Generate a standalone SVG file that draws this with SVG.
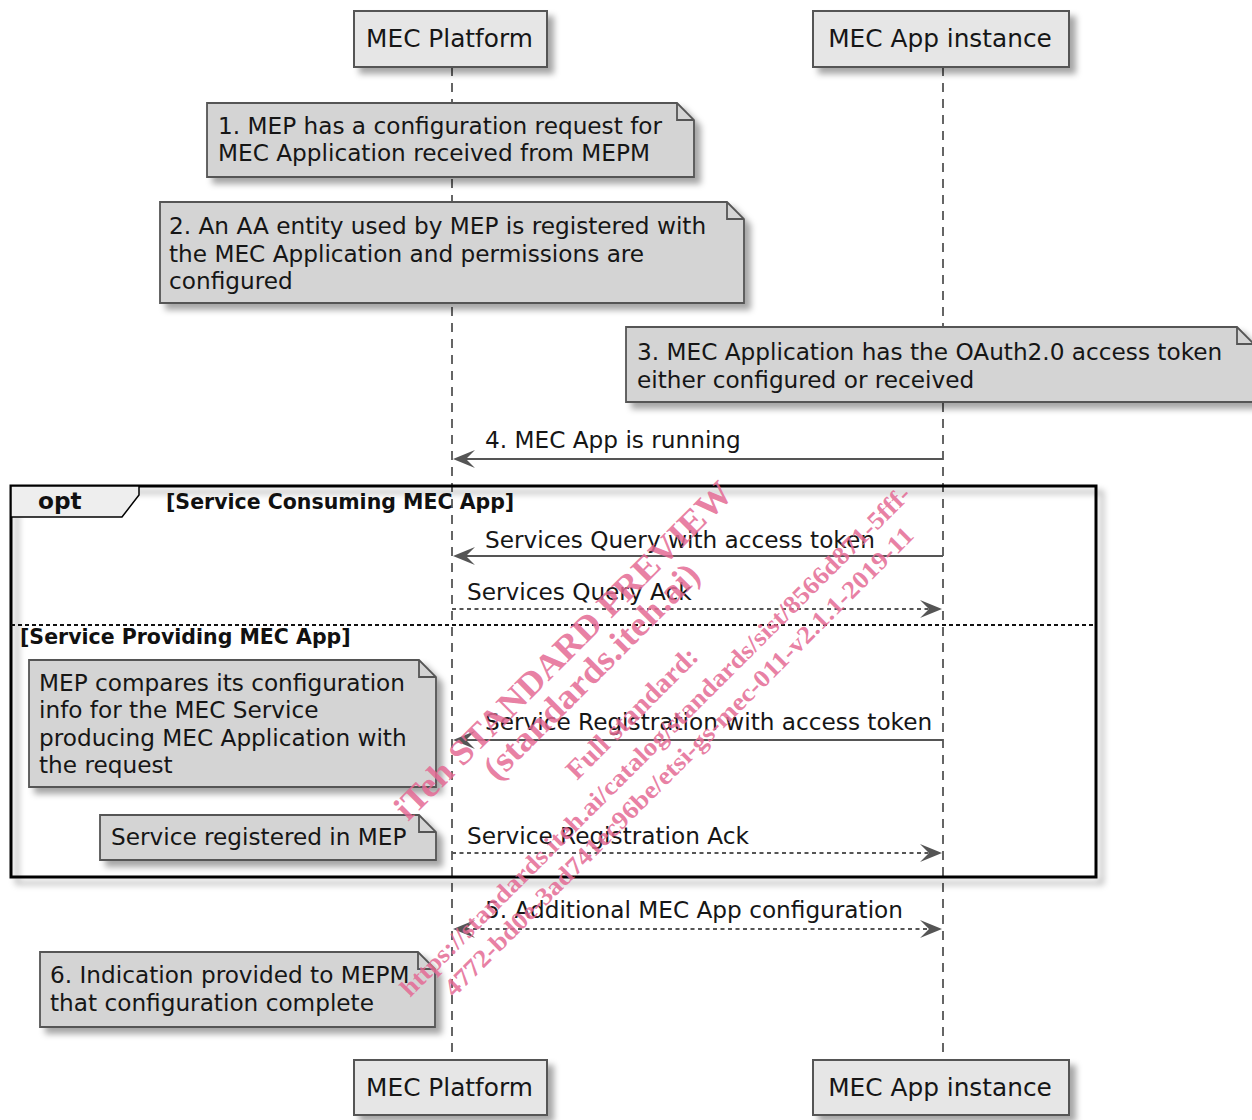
<svg xmlns="http://www.w3.org/2000/svg" width="1252" height="1120" viewBox="0 0 1252 1120">
<defs>
<filter id="sh" x="-10%" y="-10%" width="130%" height="140%">
<feDropShadow dx="6" dy="6" stdDeviation="3" flood-color="#000" flood-opacity="0.35"/>
</filter>
<style>
.txt{font-family:"DejaVu Sans",sans-serif;font-size:23.2px;fill:#161616}
.ptxt{font-family:"DejaVu Sans",sans-serif;font-size:24.8px;fill:#161616;text-anchor:middle}
.bold{font-family:"DejaVu Sans",sans-serif;font-weight:bold;font-size:20.5px;fill:#111}
.opt{font-family:"DejaVu Sans",sans-serif;font-weight:bold;font-size:23.2px;fill:#111}
.part{fill:#e6e6e6;stroke:#555;stroke-width:2;filter:url(#sh)}
.note{fill:#d4d4d4;stroke:#555;stroke-width:1.8;filter:url(#sh)}
.fold{fill:none;stroke:#555;stroke-width:1.8}
.life{stroke:#555;stroke-width:1.8;stroke-dasharray:9 7;fill:none}
.msg{stroke:#555;stroke-width:2;fill:none}
.dash{stroke:#555;stroke-width:2;fill:none;stroke-dasharray:4 3.5}
.head{fill:#555}
.wm{font-family:"Liberation Serif",serif;font-weight:bold;fill:#e46a94;fill-opacity:0.85}
</style>
</defs>
<rect width="1252" height="1120" fill="#fff"/>

<g id="lifelines">
<line class="life" x1="452" y1="67" x2="452" y2="1060"/>
<line class="life" x1="943" y1="67" x2="943" y2="1060"/>
</g>

<g id="participant-mep-top"><rect class="part" x="354" y="11" width="193" height="56"/><text class="ptxt" x="449.5" y="47">MEC Platform</text></g>
<g id="participant-app-top"><rect class="part" x="813" y="11" width="256" height="56"/><text class="ptxt" x="940" y="47">MEC App instance</text></g>

<g id="note1"><path class="note" d="M207 103H677L694 120V177H207Z"/><path class="fold" d="M677 103V120H694"/>
<text class="txt" x="218" y="134">1. MEP has a configuration request for</text><text class="txt" x="218" y="161">MEC Application received from MEPM</text></g>

<g id="note2"><path class="note" d="M160 202H727L744 219V303H160Z"/><path class="fold" d="M727 202V219H744"/>
<text class="txt" x="169" y="234">2. An AA entity used by MEP is registered with</text><text class="txt" x="169" y="262">the MEC Application and permissions are</text><text class="txt" x="169" y="289">configured</text></g>

<g id="note3"><path class="note" d="M626 327H1237L1254 344V402H626Z"/><path class="fold" d="M1237 327V344H1254"/>
<text class="txt" x="637" y="360">3. MEC Application has the OAuth2.0 access token</text><text class="txt" x="637" y="388">either configured or received</text></g>

<g id="opt-frame">
<rect x="11" y="486" width="1085" height="391" fill="none" stroke="#000" stroke-width="3" filter="url(#sh)"/>
<path d="M11 486H139V495L122 517H11Z" fill="#eeeeee" stroke="#000" stroke-width="1.5"/>
<text class="opt" x="38" y="509">opt</text>
<text class="bold" x="166" y="509">[Service Consuming MEC App]</text>
<line x1="11" y1="625" x2="1096" y2="625" stroke="#111" stroke-width="1.8" stroke-dasharray="4 3"/>
<text class="bold" x="20" y="644">[Service Providing MEC App]</text>
</g>

<g id="note4"><path class="note" d="M29 660H419L436 677V787H29Z"/><path class="fold" d="M419 660V677H436"/>
<text class="txt" x="39" y="691">MEP compares its configuration</text><text class="txt" x="39" y="718">info for the MEC Service</text><text class="txt" x="39" y="746">producing MEC Application with</text><text class="txt" x="39" y="773">the request</text></g>

<g id="note5"><path class="note" d="M100 815H419L436 832V860H100Z"/><path class="fold" d="M419 815V832H436"/>
<text class="txt" x="111" y="845">Service registered in MEP</text></g>

<g id="note6"><path class="note" d="M40 952H418L435 969V1027H40Z"/><path class="fold" d="M418 952V969H435"/>
<text class="txt" x="50" y="983">6. Indication provided to MEPM</text><text class="txt" x="50" y="1011">that configuration complete</text></g>

<g id="connectors">
<line class="msg" x1="943" y1="459" x2="458" y2="459"/>
<path class="head" d="M453 459L475 450L466 459L475 468Z"/>
<text class="txt" x="485" y="448">4. MEC App is running</text>

<line class="msg" x1="943" y1="556" x2="458" y2="556"/>
<path class="head" d="M453 556L475 547L466 556L475 565Z"/>
<text class="txt" x="485" y="548">Services Query with access token</text>

<line class="dash" x1="452" y1="609" x2="937" y2="609"/>
<path class="head" d="M942 609L920 600L929 609L920 618Z"/>
<text class="txt" x="467" y="600">Services Query Ack</text>

<line class="msg" x1="943" y1="740" x2="458" y2="740"/>
<path class="head" d="M453 740L475 731L466 740L475 749Z"/>
<text class="txt" x="485" y="730">Service Registration with access token</text>

<line class="dash" x1="452" y1="853" x2="937" y2="853"/>
<path class="head" d="M942 853L920 844L929 853L920 862Z"/>
<text class="txt" x="467" y="844">Service Registration Ack</text>

<line class="dash" x1="458" y1="929" x2="937" y2="929"/>
<path class="head" d="M453 929L475 920L466 929L475 938Z"/>
<path class="head" d="M942 929L920 920L929 929L920 938Z"/>
<text class="txt" x="485" y="918">5. Additional MEC App configuration</text>
</g>

<g id="participant-mep-bottom"><rect class="part" x="354" y="1060" width="193" height="55"/><text class="ptxt" x="449.5" y="1096">MEC Platform</text></g>
<g id="participant-app-bottom"><rect class="part" x="813" y="1060" width="256" height="55"/><text class="ptxt" x="940" y="1096">MEC App instance</text></g>

<g id="watermark">
<text class="wm" font-size="35" x="408" y="822" transform="rotate(-45 408 822)" textLength="462" lengthAdjust="spacingAndGlyphs">iTeh STANDARD PREVIEW</text>
<text class="wm" font-size="35" x="497" y="782" transform="rotate(-45 497 782)" textLength="290" lengthAdjust="spacingAndGlyphs">(standards.iteh.ai)</text>
<text class="wm" font-size="28" x="577" y="781" transform="rotate(-45 577 781)" textLength="174" lengthAdjust="spacingAndGlyphs">Full standard:</text>
<text class="wm" font-size="25" x="410" y="998" transform="rotate(-45 410 998)" textLength="710" lengthAdjust="spacingAndGlyphs">https://standards.iteh.ai/catalog/standards/sist/8566d871-5fff-</text>
<text class="wm" font-size="25" x="454" y="998" transform="rotate(-45 454 998)" textLength="652" lengthAdjust="spacingAndGlyphs">4772-bd0e-3ad741ec96be/etsi-gs-mec-011-v2.1.1-2019-11</text>
</g>
</svg>
